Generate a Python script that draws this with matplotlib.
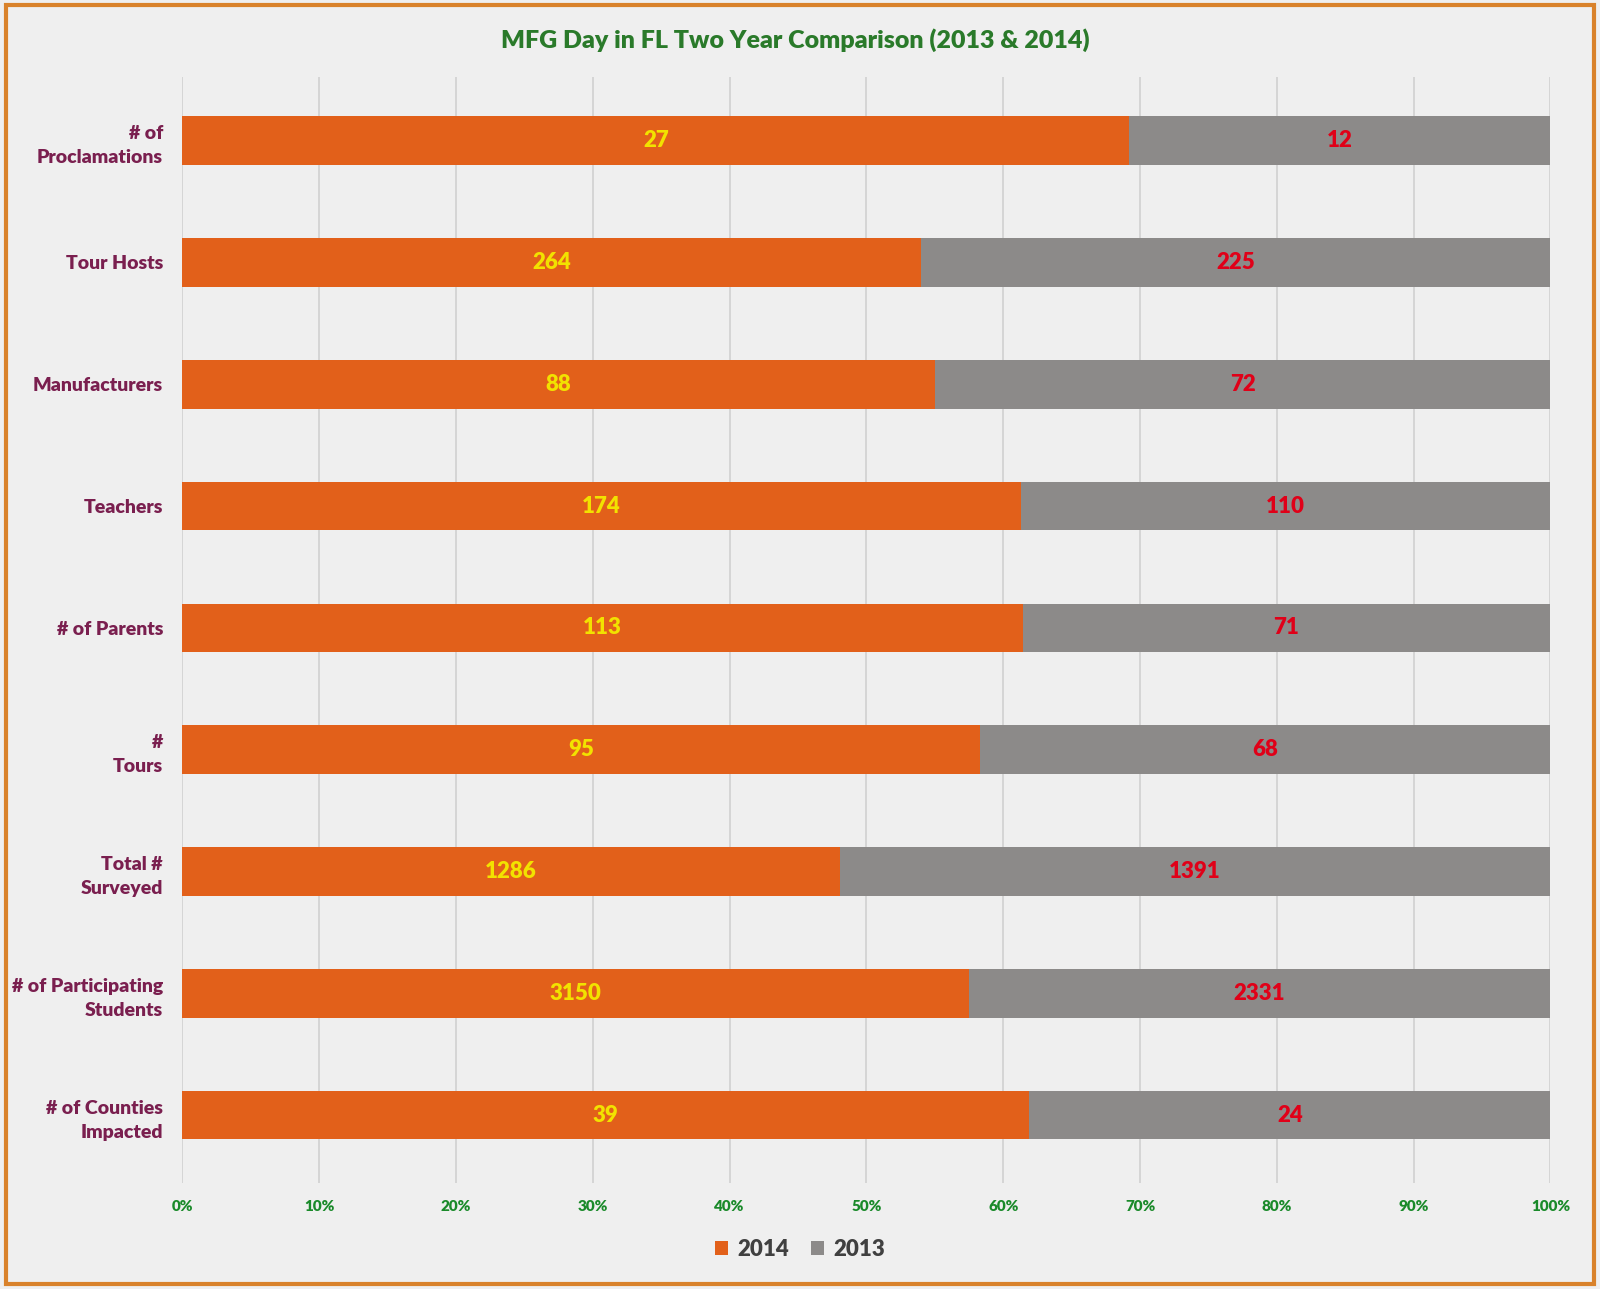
import matplotlib
matplotlib.use("Agg")
import matplotlib.pyplot as plt
from matplotlib.patches import Rectangle
import numpy as np

categories = ["# of\nProclamations", "Tour Hosts", "Manufacturers", "Teachers",
              "# of Parents", "#\nTours", "Total #\nSurveyed",
              "# of Participating\nStudents", "# of Counties\nImpacted"]
v2014 = [27, 264, 88, 174, 113, 95, 1286, 3150, 39]
v2013 = [12, 225, 72, 110, 71, 68, 1391, 2331, 24]
ticks = [0, 10, 20, 30, 40, 50, 60, 70, 80, 90, 100]

bg = "#efefef"
fig = plt.figure(figsize=(16, 12.89), dpi=100, facecolor=bg)
fig.patches.append(Rectangle((0.004, 0.004), 0.992, 0.992, transform=fig.transFigure,
                             fill=False, edgecolor="#d9822b", linewidth=3))
ax = fig.add_axes([0.114, 0.082, 0.855, 0.858], facecolor=bg)

a = np.array(v2014, float); b = np.array(v2013, float)
p14 = a / (a + b) * 100; p13 = b / (a + b) * 100
y = np.arange(len(categories))
ax.barh(y, p14, height=0.4, color="#e2601a", label="2014", zorder=3)
ax.barh(y, p13, left=p14, height=0.4, color="#8c8a89", label="2013", zorder=3)
for i in range(len(y)):
    ax.text(p14[i] / 2, y[i], str(v2014[i]), ha="center", va="center", color="#f2e200",
            fontsize=16, fontweight="heavy", family="Lato", zorder=4)
    ax.text(p14[i] + p13[i] / 2, y[i], str(v2013[i]), ha="center", va="center", color="#e00018",
            fontsize=16, fontweight="heavy", family="Lato", zorder=4)

ax.set_xlim(0, 100)
ax.set_ylim(len(y) - 1 + 0.56, -0.52)
ax.set_xticks(ticks)
ax.set_xticklabels([f"{t}%" for t in ticks], color="#1a8a2a", fontsize=11, fontweight="heavy", family="Lato")
ax.set_yticks(y)
ax.set_yticklabels(categories, color="#7a1f4f", fontsize=14, fontweight="heavy", family="Lato",
                   ha="right", linespacing=1.5)
ax.tick_params(length=0, pad=14)
ax.tick_params(axis="x", pad=12)
ax.grid(axis="x", color="#d0d0d0", linewidth=1.2, zorder=0)
for s in ax.spines.values():
    s.set_visible(False)

fig.text(0.497, 0.969, "MFG Day in FL Two Year Comparison (2013 & 2014)", ha="center", va="center",
         color="#2a7a2a", fontsize=18, fontweight="heavy", family="Lato")
leg = fig.legend(loc="center", bbox_to_anchor=(0.5, 0.031), ncol=2, frameon=False,
                 prop={"family": "Lato", "weight": "heavy", "size": 16},
                 handlelength=0.6, handleheight=0.6, columnspacing=1.0, handletextpad=0.4)
for t in leg.get_texts():
    t.set_color("#404040")
fig.savefig("out.png", dpi=100, facecolor=bg)
